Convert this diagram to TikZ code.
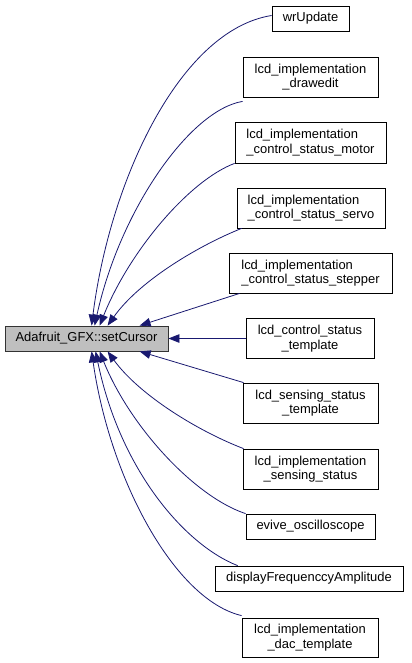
\documentclass[tikz,border=0pt]{standalone}
\usepackage{fontspec}
\setmainfont{Liberation Sans}
\usetikzlibrary{arrows.meta}
\definecolor{edgeblue}{RGB}{25,25,112}
\definecolor{maingray}{RGB}{191,191,191}
\begin{document}
\begin{tikzpicture}[x=1bp,y=-1bp,
  box/.style={draw=black,fill=white,line width=0.8bp,inner sep=0pt,
    font=\fontsize{13}{14.5}\selectfont,align=center},
  boxl/.style={box,align=left},
  mainbox/.style={box,fill=maingray,draw=black!80},
  call/.style={draw=edgeblue,line width=0.8bp,
    {Triangle[length=11bp,width=8.5bp,fill=edgeblue]}-}]
\useasboundingbox (0,0) rectangle (411,663);
\node[mainbox,minimum width=163bp,minimum height=25bp] (main) at (86.5,338.5) {Adafruit\_GFX::setCursor};
\node[box,minimum width=77bp,minimum height=25bp] (wr) at (310.5,18.5) {wrUpdate};
\node[box,minimum width=135bp,minimum height=40bp] (de) at (310.5,77) {lcd\_implementation\\\_drawedit};
\node[boxl,minimum width=151bp,minimum height=41bp] (mo) at (310.5,142.5) {lcd\_implementation\\\_control\_status\_motor};
\node[boxl,minimum width=148bp,minimum height=40bp] (se) at (311,208) {lcd\_implementation\\\_control\_status\_servo};
\node[boxl,minimum width=163bp,minimum height=40bp] (st) at (310.5,273) {lcd\_implementation\\\_control\_status\_stepper};
\node[box,minimum width=128bp,minimum height=40bp] (cst) at (310,338.5) {lcd\_control\_status\\\_template};
\node[box,minimum width=135bp,minimum height=40bp] (sst) at (310.5,403) {lcd\_sensing\_status\\\_template};
\node[box,minimum width=135bp,minimum height=40bp] (iss) at (310.5,469) {lcd\_implementation\\\_sensing\_status};
\node[box,minimum width=129bp,minimum height=25bp] (ev) at (310.5,526.5) {evive\_oscilloscope};
\node[box,minimum width=188bp,minimum height=25bp] (dfa) at (309,578.5) {displayFrequenccyAmplitude};
\node[box,minimum width=136bp,minimum height=39bp] (dac) at (310,637.5) {lcd\_implementation\\\_dac\_template};

% top arrows
\draw[call] ([xshift=87bp]main.north west) .. controls (110,180) and (180,30) .. ([yshift=3bp]wr.west);
\draw[call] ([xshift=90bp]main.north west) .. controls (120,210) and (190,110) .. ([yshift=-4bp]de.south west);
\draw[call] ([xshift=95bp]main.north west) .. controls (130,250) and (190,180) .. (mo.south west);
\draw[call] ([xshift=103bp]main.north west) .. controls (140,280) and (200,245) .. ([xshift=5bp]se.south west);
\draw[call] ([xshift=135bp]main.north west) -- ([xshift=11bp]st.south west);
\draw[call] (main.east) -- (cst.west);
% bottom arrows
\draw[call] ([xshift=135bp]main.south west) -- ([xshift=1bp]sst.north west);
\draw[call] ([xshift=103bp]main.south west) .. controls (140,396) and (200,432) .. ([xshift=1bp]iss.north west);
\draw[call] ([xshift=95bp]main.south west) .. controls (130,427) and (195,497) .. (ev.north west);
\draw[call] ([xshift=91bp]main.south west) .. controls (120,470) and (185,545) .. ([xshift=23bp]dfa.north west);
\draw[call] ([xshift=87bp]main.south west) .. controls (110,480) and (175,600) .. ([yshift=2bp]dac.north west);
\end{tikzpicture}
\end{document}
